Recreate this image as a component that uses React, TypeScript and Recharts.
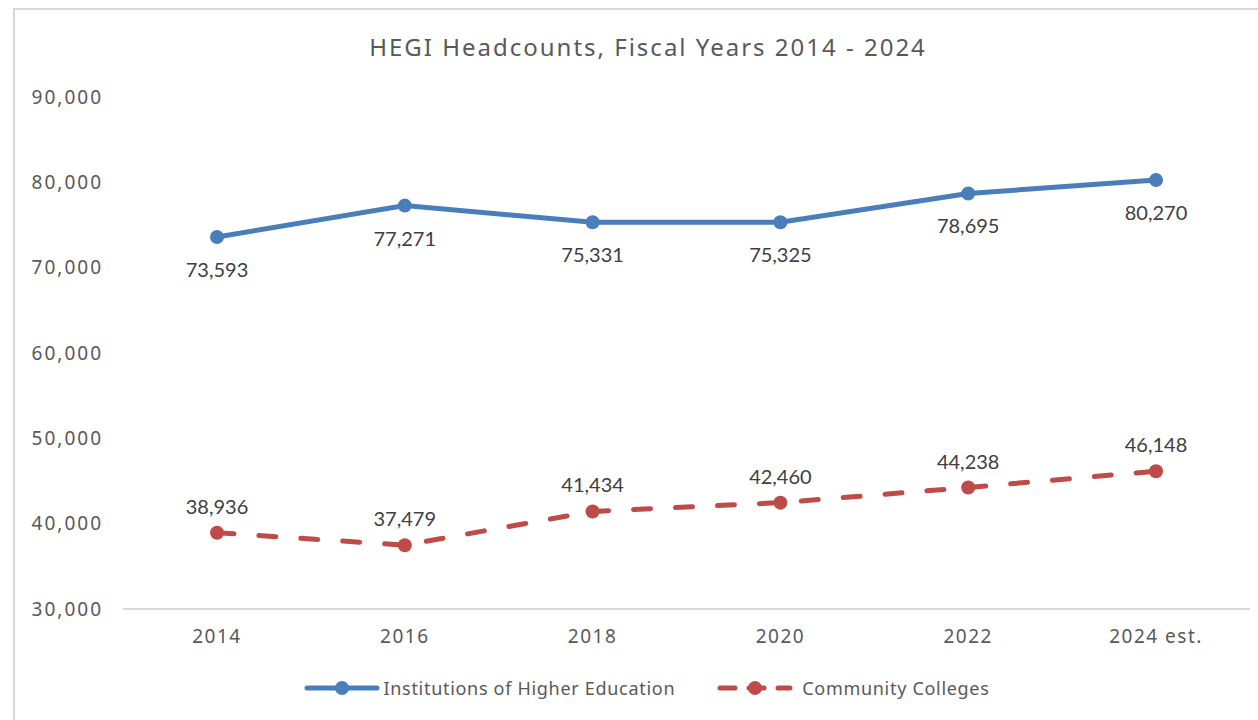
import { LineChart, Line, XAxis, YAxis, Legend } from 'recharts'

const years = ['2014', '2016', '2018', '2020', '2022', '2024 est.']
const institutions = [73593, 77271, 75331, 75325, 78695, 80270]
const colleges = [38936, 37479, 41434, 42460, 44238, 46148]
const yTicks = [30000, 40000, 50000, 60000, 70000, 80000, 90000]

const series = [
  { key: 'ihe', name: 'Institutions of Higher Education', color: '#4a7ebb', dash: undefined as string | undefined },
  { key: 'cc', name: 'Community Colleges', color: '#be4b48', dash: '17 25' },
]

const data = years.map((year, i) => ({ year, ihe: institutions[i], cc: colleges[i] }))

const fmt = (v: number) => v.toLocaleString('en-US')

const GOTHIC = '"Noto Sans", "DejaVu Sans", sans-serif'
const LABEL_FONT = 'Lato, "Liberation Sans", sans-serif'

function makeLabel(offset: number) {
  return (props: any) => {
    const { x, y, value } = props
    return (
      <text
        x={x}
        y={y + offset}
        textAnchor="middle"
        dominantBaseline="central"
        fontFamily={LABEL_FONT}
        fontSize={20}
        fill="#404040"
      >
        {fmt(value)}
      </text>
    )
  }
}

function LegendContent() {
  return (
    <div
      style={{
        height: 50,
        display: 'flex',
        justifyContent: 'center',
        alignItems: 'flex-start',
        paddingTop: 6,
        boxSizing: 'border-box',
        fontFamily: GOTHIC,
        fontSize: 18,
        letterSpacing: 0.7,
        color: '#595959',
        gap: 42,
        paddingLeft: 44,
      }}
    >
      {series.map((s) => (
        <div key={s.key} style={{ display: 'flex', alignItems: 'center', height: 24 }}>
          <svg width={76} height={18} style={{ marginRight: s.key === 'cc' ? 9 : 3 }}>
            <line
              x1={3}
              y1={9}
              x2={73}
              y2={9}
              stroke={s.color}
              strokeWidth={5}
              strokeLinecap="round"
              strokeDasharray={s.dash ? '15 14' : undefined}
            />
            <circle cx={38} cy={9} r={7} fill={s.color} />
          </svg>
          <span>{s.name}</span>
        </div>
      ))}
    </div>
  )
}

export default function App() {
  return (
    <div style={{ position: 'fixed', left: 0, top: 0, width: 1258, height: 720, background: '#fff' }}>
      <div
        style={{
          position: 'absolute',
          left: 13,
          top: 8,
          right: -10,
          bottom: -10,
          borderLeft: '2px solid #d9d9d9',
          borderTop: '2px solid #d9d9d9',
        }}
      />
      <div
        style={{
          position: 'absolute',
          left: 648,
          top: 30,
          transform: 'translateX(-50%)',
          whiteSpace: 'nowrap',
          fontFamily: GOTHIC,
          fontSize: 24,
          letterSpacing: 2,
          color: '#595959',
          lineHeight: '34px',
        }}
      >
        HEGI Headcounts, Fiscal Years 2014 - 2024
      </div>
      <div style={{ position: 'absolute', left: 0, top: 0 }}>
        <LineChart width={1258} height={720} data={data} margin={{ top: 97, right: 8, left: 0, bottom: 0 }}>
          <XAxis
            dataKey="year"
            height={61}
            padding={{ left: 94, right: 94 }}
            axisLine={{ stroke: '#d9d9d9', strokeWidth: 2 }}
            tickLine={false}
            tickSize={0}
            tickMargin={21}
            tick={{ fontFamily: GOTHIC, fontSize: 19, fill: '#595959', letterSpacing: 1.5 }}
          />
          <YAxis
            width={123}
            domain={[30000, 90000]}
            ticks={yTicks}
            axisLine={false}
            tickLine={false}
            tickSize={0}
            tickMargin={20}
            tickFormatter={fmt}
            tick={{ fontFamily: GOTHIC, fontSize: 19, fill: '#595959', letterSpacing: 2 }}
          />
          <Legend verticalAlign="bottom" content={<LegendContent />} />
          <Line
            dataKey="ihe"
            name={series[0].name}
            stroke={series[0].color}
            strokeWidth={5}
            strokeLinecap="round"
            dot={{ r: 7, fill: series[0].color, stroke: 'none' }}
            label={makeLabel(32)}
            isAnimationActive={false}
          />
          <Line
            dataKey="cc"
            name={series[1].name}
            stroke={series[1].color}
            strokeWidth={5}
            strokeLinecap="round"
            strokeDasharray={series[1].dash}
            dot={{ r: 7, fill: series[1].color, stroke: 'none' }}
            label={makeLabel(-27)}
            isAnimationActive={false}
          />
        </LineChart>
      </div>
    </div>
  )
}
